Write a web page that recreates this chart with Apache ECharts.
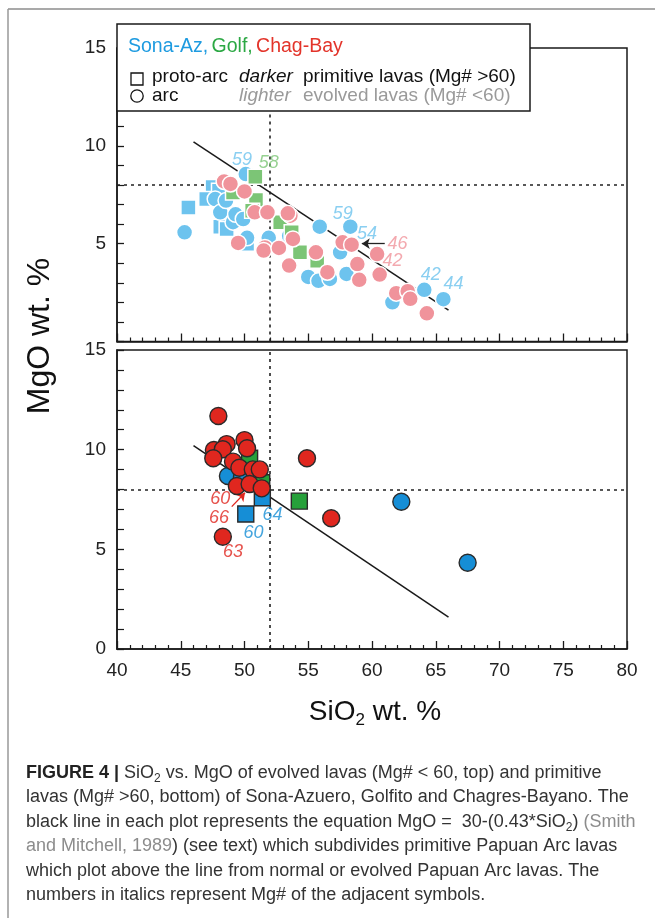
<!DOCTYPE html>
<html lang="en">
<head>
<meta charset="UTF-8">
<title>SiO2 vs MgO</title>
<script src="https://cdn.jsdelivr.net/npm/echarts@6/dist/echarts.min.js"></script>
<style>
  html, body { margin: 0; padding: 0; background: #fff; }
  #chart { width: 655px; height: 918px; }
</style>
</head>
<body>
<div id="chart"></div>
<script>
// top panel: evolved lavas (Mg# < 60), lighter colours
const topSonaSquares = [[45.6, 6.85], [47.5, 7.9], [47.0, 7.28], [48.0, 7.7], [48.1, 5.87], [48.6, 5.75], [50.2, 5.0]];
const topSonaCircles = [[45.3, 5.58], [47.7, 7.28], [48.1, 6.6], [48.55, 7.2], [49.1, 6.1], [49.3, 6.5], [49.9, 6.26],
  [50.1, 8.56], [50.2, 5.3], [51.9, 5.3], [53.5, 5.4], [55.9, 5.87], [55.0, 3.3], [55.8, 3.1], [56.7, 3.2],
  [58.0, 3.45], [57.5, 4.56], [58.3, 5.87], [61.6, 2.0], [64.1, 2.64], [65.6, 2.16]];
const topGolfSquares = [[50.85, 8.42], [49.1, 7.62], [50.9, 7.23], [50.6, 6.68], [52.8, 6.09], [53.7, 5.58],
  [54.35, 4.56], [55.7, 4.13]];
const topChagCircles = [[48.4, 8.18], [48.9, 8.05], [50.0, 7.67], [50.8, 6.6], [51.8, 6.6], [53.6, 6.43],
  [53.4, 6.55], [53.8, 5.24], [49.5, 5.04], [51.6, 4.81], [51.5, 4.65], [52.7, 4.78], [53.5, 3.88], [55.6, 4.56],
  [56.5, 3.54], [57.7, 5.07], [58.4, 4.95], [60.4, 4.47], [58.85, 3.96], [59.0, 3.15], [60.6, 3.42], [61.9, 2.47],
  [62.8, 2.57], [63.0, 2.18], [64.3, 1.44]];

// bottom panel: primitive lavas (Mg# > 60), darker colours
const botSonaSquares = [[51.4, 7.59], [50.1, 6.77]];
const botGolfSquares = [[50.4, 9.57], [51.35, 8.34], [54.3, 7.42]];
const botSonaCircles = [[48.7, 8.68], [49.8, 8.61], [62.3, 7.39], [67.5, 4.33]];
const botChagCircles = [[47.95, 11.69], [47.6, 9.98], [48.6, 10.28], [48.3, 10.02], [47.55, 9.57], [50.0, 10.48],
  [50.2, 10.07], [49.1, 9.4], [49.6, 9.09], [50.65, 9.01], [51.2, 9.01], [49.4, 8.18], [50.4, 8.28], [51.35, 8.06],
  [54.9, 9.57], [56.8, 6.56], [48.3, 5.63]];

// MgO = 30 - 0.43*SiO2, end points as drawn
const refLine = [[46, 10.2], [66, 1.6]];

// Mg# numbers written next to symbols [SiO2, MgO, text]
const topNotesSona = [[49.8, 9.3, '59'], [57.7, 6.5, '59'], [59.6, 5.5, '54'], [64.6, 3.4, '42'], [66.4, 2.95, '44']];
const topNotesGolf = [[51.9, 9.1, '58']];
const topNotesChag = [[62.0, 5.0, '46'], [61.6, 4.13, '42']];
const botNotesChag = [[48.1, 7.52, '60'], [48.0, 6.57, '66'], [49.1, 4.86, '63']];
const botNotesSona = [[52.2, 6.72, '64'], [50.7, 5.82, '60']];
const topArrow = [[61.0, 5.0], [59.2, 5.0]];
const botArrow = [[49.0, 7.14], [50.04, 7.84]];

const FONT = 'Liberation Sans, Arial, sans-serif';
const AXIS = '#1a1a1a';
const LIGHT = { sona: '#6dc3ee', golf: '#7cc576', chag: '#f0939b' };
const DARK = { sona: '#168ed6', golf: '#26a03a', chag: '#e0271f' };

function pts(grid, data, shape, color, dark) {
  let size = shape === 'rect' ? 15 : 16;
  if (dark) size += 1;
  return {
    type: 'scatter', xAxisIndex: grid, yAxisIndex: grid, data: data,
    symbol: shape, symbolSize: size,
    itemStyle: { color: color, borderColor: dark ? '#2a2a2a' : '#ffffff', borderWidth: dark ? 1.4 : 1.5, opacity: 1 },
    z: 5
  };
}

function notes(grid, data, color, arrow) {
  const s = {
    type: 'scatter', xAxisIndex: grid, yAxisIndex: grid, data: data, symbolSize: 0.1,
    itemStyle: { color: 'transparent' }, z: 6,
    label: {
      show: true, position: 'inside', formatter: p => p.data[2],
      color: color, fontSize: 18, fontStyle: 'italic', fontFamily: FONT
    }
  };
  if (arrow) {
    s.markLine = {
      silent: true, symbol: ['none', 'arrow'], symbolSize: 8, label: { show: false },
      lineStyle: { color: arrow.color, width: 1.3, type: 'solid' },
      data: [[{ coord: arrow.pts[0] }, { coord: arrow.pts[1] }]]
    };
  }
  return s;
}

function guide(grid) {
  return {
    type: 'line', xAxisIndex: grid, yAxisIndex: grid, data: refLine, symbol: 'none',
    lineStyle: { color: AXIS, width: 1.5 }, z: 3,
    markLine: {
      silent: true, symbol: 'none', label: { show: false },
      lineStyle: { color: '#222', width: 1.6, type: [3, 4] },
      data: [{ xAxis: 52 }, { yAxis: 8 }]
    }
  };
}

function xAx(grid, labels) {
  return {
    gridIndex: grid, type: 'value', min: 40, max: 80, interval: 5,
    axisLine: { lineStyle: { color: AXIS, width: 1.5 } },
    axisTick: { inside: true, length: 8, lineStyle: { color: AXIS, width: 1.3 } },
    minorTick: { show: true, splitNumber: 5, length: 4, lineStyle: { color: AXIS, width: 1.2 } },
    splitLine: { show: false },
    axisLabel: { show: labels, fontSize: 19, color: '#222', fontFamily: FONT, margin: 12 }
  };
}

function yAx(grid, hideZero) {
  return {
    gridIndex: grid, type: 'value', min: 0, max: 15, interval: 5,
    axisLine: { lineStyle: { color: AXIS, width: 1.5 } },
    axisTick: { inside: true, length: 7, lineStyle: { color: AXIS, width: 1.3 } },
    minorTick: { show: true, splitNumber: 5, length: 7, lineStyle: { color: AXIS, width: 1.2 } },
    splitLine: { show: false },
    axisLabel: {
      fontSize: 19, color: '#222', fontFamily: FONT, margin: 11,
      formatter: v => (hideZero && v === 0) ? '' : String(v)
    }
  };
}

const capText = [
  '{b|FIGURE 4 |}{n| SiO}{s|2}{n| vs. MgO of evolved lavas (Mg# < 60, top) and primitive}',
  '{n|lavas (Mg# >60, bottom) of Sona-Azuero, Golfito and Chagres-Bayano. The}',
  '{n|black line in each plot represents the equation MgO =  30-(0.43*SiO}{s|2}{n|) }{g|(Smith}',
  '{g|and Mitchell, 1989}{n|) (see text) which subdivides primitive Papuan Arc lavas}',
  '{n|which plot above the line from normal or evolved Papuan Arc lavas. The}',
  '{n|numbers in italics represent Mg# of the adjacent symbols.}'
];
const capRich = {
  n: { fontSize: 18, fill: '#333', color: '#333', fontFamily: FONT, lineHeight: 24 },
  b: { fontSize: 18, fill: '#222', color: '#222', fontFamily: FONT, fontWeight: 'bold', lineHeight: 24 },
  g: { fontSize: 18, fill: '#8c8c8c', color: '#8c8c8c', fontFamily: FONT, lineHeight: 24 },
  s: { fontSize: 12, fill: '#333', color: '#333', fontFamily: FONT, lineHeight: 12, verticalAlign: 'bottom' }
};

const graphics = [
  // figure frame
  { type: 'line', shape: { x1: 8, y1: 9, x2: 655, y2: 9 }, style: { stroke: '#555', lineWidth: 1.2 }, z: 100 },
  { type: 'line', shape: { x1: 8, y1: 9, x2: 8, y2: 918 }, style: { stroke: '#999', lineWidth: 1.5 }, z: 100 },
  // legend box
  { type: 'rect', shape: { x: 117, y: 24, width: 413, height: 87 },
    style: { fill: '#fff', stroke: AXIS, lineWidth: 1.5 }, z: 100 },
  { type: 'text', x: 128, y: 47, z: 101, style: {
      text: '{a|Sona-Az,} {b|Golf,} {c|Chag-Bay}', verticalAlign: 'middle',
      rich: {
        a: { fontSize: 19.5, fontFamily: FONT, fill: '#1e9be0', color: '#1e9be0' },
        b: { fontSize: 19.5, fontFamily: FONT, fill: '#2ca844', color: '#2ca844' },
        c: { fontSize: 19.5, fontFamily: FONT, fill: '#e3342a', color: '#e3342a' }
      } } },
  { type: 'rect', shape: { x: 131, y: 73, width: 12, height: 12 },
    style: { fill: '#fff', stroke: '#111', lineWidth: 1.3 }, z: 101 },
  { type: 'circle', shape: { cx: 137, cy: 96, r: 6.2 },
    style: { fill: '#fff', stroke: '#111', lineWidth: 1.3 }, z: 101 },
  { type: 'text', x: 152, y: 77, z: 101, style: { text: 'proto-arc', fontSize: 19, fontFamily: FONT, fill: '#111', verticalAlign: 'middle' } },
  { type: 'text', x: 152, y: 96, z: 101, style: { text: 'arc', fontSize: 19, fontFamily: FONT, fill: '#111', verticalAlign: 'middle' } },
  { type: 'text', x: 239, y: 77, z: 101, style: { text: 'darker', fontSize: 19, fontStyle: 'italic', fontFamily: FONT, fill: '#111', verticalAlign: 'middle' } },
  { type: 'text', x: 239, y: 96, z: 101, style: { text: 'lighter', fontSize: 19, fontStyle: 'italic', fontFamily: FONT, fill: '#9a9a9a', verticalAlign: 'middle' } },
  { type: 'text', x: 303, y: 77, z: 101, style: { text: 'primitive lavas (Mg# >60)', fontSize: 19, fontFamily: FONT, fill: '#111', verticalAlign: 'middle' } },
  { type: 'text', x: 303, y: 96, z: 101, style: { text: 'evolved lavas (Mg# <60)', fontSize: 19, fontFamily: FONT, fill: '#9a9a9a', verticalAlign: 'middle' } },
  // axis names
  { type: 'text', x: 40, y: 336, rotation: Math.PI / 2, z: 101, style: {
      text: 'MgO wt. %', fontSize: 32, fontFamily: FONT, fill: '#111', align: 'center', verticalAlign: 'middle' } },
  { type: 'text', x: 375, y: 712, z: 101, style: {
      text: '{a|SiO}{s|2}{a| wt. %}', align: 'center', verticalAlign: 'middle',
      rich: {
        a: { fontSize: 28, fontFamily: FONT, fill: '#111', color: '#111', lineHeight: 34 },
        s: { fontSize: 17, fontFamily: FONT, fill: '#111', color: '#111', lineHeight: 17, verticalAlign: 'bottom' }
      } } }
];
capText.forEach((t, i) => {
  graphics.push({ type: 'text', x: 26, y: 773 + i * 24.5, z: 101,
    style: { text: t, rich: capRich, verticalAlign: 'middle' } });
});

const chart = echarts.init(document.getElementById('chart'), null, { renderer: 'canvas' });
chart.setOption({
  animation: false,
  backgroundColor: '#fff',
  textStyle: { fontFamily: FONT },
  grid: [
    { left: 117, top: 48, width: 510, height: 293.5, show: true, borderColor: AXIS, borderWidth: 1.5, backgroundColor: 'transparent' },
    { left: 117, top: 350, width: 510, height: 299, show: true, borderColor: AXIS, borderWidth: 1.5, backgroundColor: 'transparent' }
  ],
  xAxis: [xAx(0, false), xAx(1, true)],
  yAxis: [yAx(0, true), yAx(1, false)],
  series: [
    guide(0),
    guide(1),
    pts(0, topSonaSquares, 'rect', LIGHT.sona, false),
    pts(0, topSonaCircles, 'circle', LIGHT.sona, false),
    pts(0, topGolfSquares, 'rect', LIGHT.golf, false),
    pts(0, topChagCircles, 'circle', LIGHT.chag, false),
    pts(1, botSonaSquares, 'rect', DARK.sona, true),
    pts(1, botGolfSquares, 'rect', DARK.golf, true),
    pts(1, botSonaCircles, 'circle', DARK.sona, true),
    pts(1, botChagCircles, 'circle', DARK.chag, true),
    notes(0, topNotesSona, LIGHT.sona),
    notes(0, topNotesGolf, LIGHT.golf),
    notes(0, topNotesChag, LIGHT.chag, { color: '#222', pts: topArrow }),
    notes(1, botNotesChag, DARK.chag, { color: DARK.chag, pts: botArrow }),
    notes(1, botNotesSona, DARK.sona)
  ],
  graphic: graphics
});
</script>
</body>
</html>
